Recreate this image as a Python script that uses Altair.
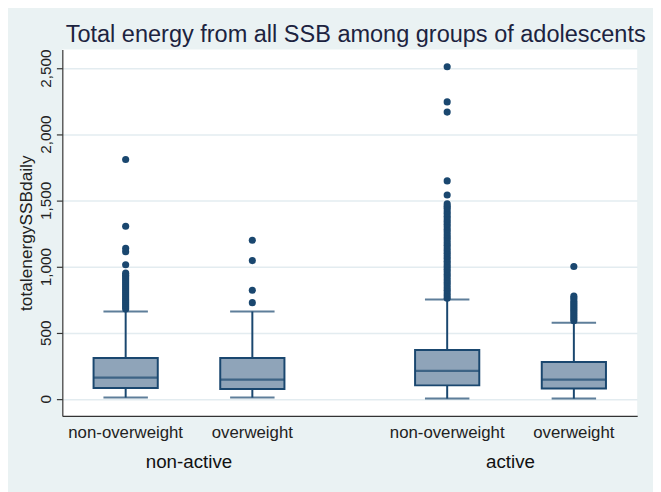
import altair as alt
import pandas as pd

# ---- data ----
activity = ["non-active", "non-active", "active", "active"]
weight = ["non-overweight", "overweight", "non-overweight", "overweight"]
whisker_low = [10, 10, 2, 2]
q1 = [82, 75, 102, 78]
median = [160, 145, 212, 145]
q3 = [309, 309, 369, 279]
whisker_high = [660, 660, 751, 575]

outliers_na_nov = [680, 695, 710, 725, 740, 755, 770, 785, 800, 815, 830, 845,
                   860, 875, 890, 905, 920, 935, 950, 1013, 1112, 1137, 1304, 1809]
outliers_na_ov = [727, 821, 1045, 1199]
outliers_a_nov = [760, 780, 800, 820, 840, 860, 880, 900, 920, 940, 960, 980,
                  1000, 1020, 1040, 1060, 1080, 1100, 1120, 1140, 1160, 1180,
                  1200, 1220, 1240, 1260, 1280, 1300, 1320, 1340, 1360, 1380,
                  1400, 1420, 1440, 1455, 1473, 1540, 1647, 2167, 2244, 2510]
outliers_a_ov = [590, 605, 620, 635, 650, 665, 680, 695, 710, 725, 740, 760, 776, 1000]

y_ticks = [0, 500, 1000, 1500, 2000, 2500]
group_order = ["non-active", "active"]
weight_order = ["non-overweight", "overweight"]

boxes = pd.DataFrame({
    "activity": activity, "weight": weight, "low": whisker_low,
    "q1": q1, "median": median, "q3": q3, "high": whisker_high,
})

out_rows = []
for (a, w), vals in zip(zip(activity, weight),
                        [outliers_na_nov, outliers_na_ov, outliers_a_nov, outliers_a_ov]):
    for v in vals:
        out_rows.append({"activity": a, "weight": w, "value": v})
outliers = pd.DataFrame(out_rows)

NAVY = "#1a476f"
FILL = "#8fa4b9"
FONT = "Liberation Sans"

x_enc = alt.X("activity:N", sort=group_order,
              scale=alt.Scale(paddingInner=0.212, paddingOuter=0),
              axis=alt.Axis(title=None, labelAngle=0, labelFontSize=19, labelFont=FONT,
                            labelColor="#111111", labelPadding=52, labelBaseline="alphabetic",
                            ticks=False, tickSize=0, domain=True, domainColor="#333333",
                            domainWidth=1.2, grid=False))
xo_enc = alt.XOffset("weight:N", sort=weight_order,
                     scale=alt.Scale(paddingInner=0, paddingOuter=0))
y_scale = alt.Scale(domain=[-129, 2640], nice=False, zero=False)
y_axis = alt.Axis(title="totalenergySSBdaily", values=y_ticks, format=",.0f",
                  labelAngle=270, labelAlign="center", labelBaseline="alphabetic",
                  labelPadding=6, tickSize=6, tickColor="#333333", tickWidth=1.2,
                  domainColor="#333333", domainWidth=1.2,
                  labelFont=FONT, labelFontSize=15.5, labelColor="#222222",
                  titleFont=FONT, titleFontSize=17.5, titleFontWeight="normal",
                  titleColor="#222222", titleAngle=270, titleBaseline="alphabetic",
                  titleAlign="center", titleX=-31,
                  grid=True, gridColor="#e3ecf0", gridWidth=1.5)

base = alt.Chart(boxes)

whisker = base.mark_rule(color=NAVY, strokeWidth=2).encode(
    x=x_enc, xOffset=xo_enc,
    y=alt.Y("low:Q", scale=y_scale, axis=y_axis), y2="high:Q")

caps_low = base.mark_tick(color=NAVY, thickness=2, size=45).encode(
    x=x_enc, xOffset=xo_enc, y=alt.Y("low:Q", scale=y_scale))
caps_high = base.mark_tick(color=NAVY, thickness=2, size=45).encode(
    x=x_enc, xOffset=xo_enc, y=alt.Y("high:Q", scale=y_scale))

box = base.mark_bar(size=65, fill=FILL, stroke=NAVY, strokeWidth=2).encode(
    x=x_enc, xOffset=xo_enc, y=alt.Y("q1:Q", scale=y_scale), y2="q3:Q")

med = base.mark_tick(color=NAVY, thickness=2.2, size=65).encode(
    x=x_enc, xOffset=xo_enc, y=alt.Y("median:Q", scale=y_scale))

points = alt.Chart(outliers).mark_circle(size=52, color=NAVY, opacity=1).encode(
    x=x_enc, xOffset=xo_enc, y=alt.Y("value:Q", scale=y_scale))

sublabels = base.mark_text(baseline="alphabetic", align="center", fontSize=17,
                           font=FONT, color="#222222").encode(
    x=x_enc, xOffset=xo_enc, y=alt.value(393), text="weight:N")

chart = alt.layer(whisker, caps_low, caps_high, box, med, points, sublabels).properties(
    width=582, height=371,
    title=alt.Title("Total energy from all SSB among groups of adolescents",
                    fontSize=23.8, font=FONT, fontWeight="normal", color="#1c2340",
                    anchor="middle", frame="group", offset=2, dx=6),
    autosize=alt.AutoSizeParams(type="none"),
    padding={"left": 55, "top": 39, "right": 16, "bottom": 74},
).configure(background="#eaf2f3").configure_view(stroke=None, fill="white")

chart.save("out.html", embed_options={"renderer": "svg", "actions": False})
